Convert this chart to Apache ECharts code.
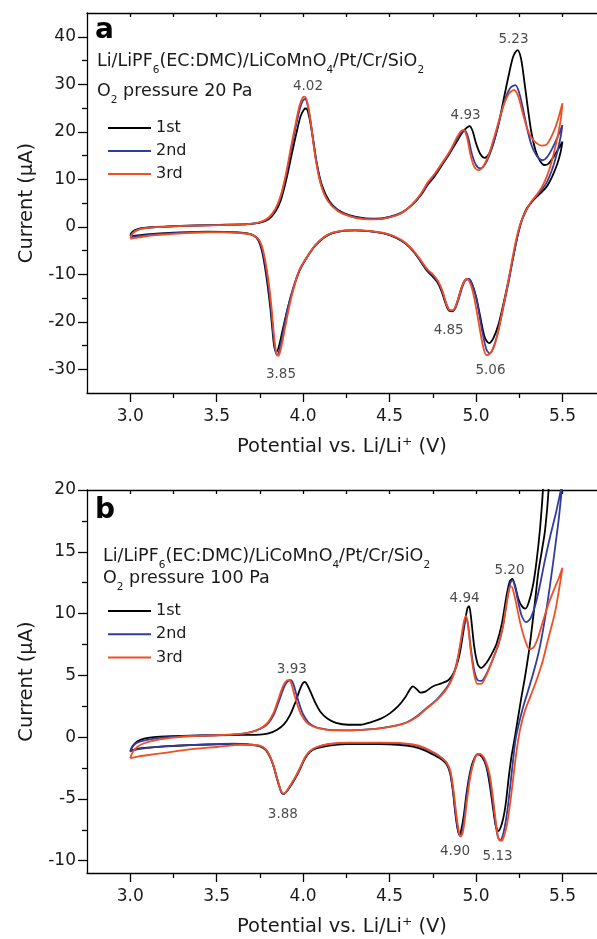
<!DOCTYPE html>
<html><head><meta charset="utf-8">
<script src="https://cdn.jsdelivr.net/npm/echarts@6/dist/echarts.min.js"></script>
<style>html,body{margin:0;padding:0;background:#fff}#c{width:597px;height:939px}</style>
</head><body><div id="c"></div>
<script>
// ---------- tick values ----------
const xMajor = [3.0, 3.5, 4.0, 4.5, 5.0, 5.5];
const xMinor = [3.25, 3.75, 4.25, 4.75, 5.25];
const xTop = [3.0, 3.25, 3.5, 3.75, 4.0, 4.25, 4.5, 4.75, 5.0, 5.25, 5.5];
const yMajorA = [-30, -20, -10, 0, 10, 20, 30, 40];
const yMinorA = [-25, -15, -5, 5, 15, 25, 35];
const yMajorB = [-10, -5, 0, 5, 10, 15, 20];
const yMinorB = [-7.5, -2.5, 2.5, 7.5, 12.5, 17.5];
const cycleNames = ['1st', '2nd', '3rd'];

// ---------- panel a data (V, µA), anodic then cathodic ----------
const a1st = [[3.00,-1.7],[3.015,-1.0],[3.04,-0.55],[3.08,-0.25],[3.15,-0.05],[3.25,0.12],[3.4,0.28],[3.55,0.42],[3.68,0.55],[3.75,0.85],[3.80,1.6],[3.84,3.2],[3.87,5.5],[3.90,9.5],[3.93,14.5],[3.96,19.5],[3.985,23.2],[4.005,24.7],[4.018,24.9],[4.035,23.2],[4.055,19.0],[4.08,13.2],[4.11,8.6],[4.15,5.5],[4.20,3.6],[4.27,2.4],[4.35,1.8],[4.42,1.7],[4.50,2.1],[4.57,3.0],[4.63,4.6],[4.68,6.6],[4.72,8.8],[4.76,10.6],[4.80,12.8],[4.85,15.6],[4.89,18.0],[4.92,19.8],[4.945,20.8],[4.963,21.2],[4.98,20.2],[5.00,17.6],[5.025,15.3],[5.05,14.5],[5.075,15.3],[5.10,17.5],[5.13,21.5],[5.16,26.8],[5.19,32.0],[5.215,35.8],[5.24,37.2],[5.26,35.5],[5.28,30.5],[5.30,25.0],[5.32,20.0],[5.345,16.0],[5.37,13.9],[5.395,13.0],[5.42,13.3],[5.45,14.8],[5.475,16.3],[5.50,17.9],
[5.49,15.8],[5.47,13.2],[5.44,10.5],[5.41,8.5],[5.38,7.3],[5.35,6.3],[5.32,5.1],[5.29,3.6],[5.265,1.4],[5.24,-2.0],[5.215,-6.4],[5.19,-11.0],[5.16,-16.0],[5.13,-20.6],[5.10,-23.5],[5.075,-24.5],[5.05,-23.2],[5.025,-19.0],[5.00,-14.6],[4.975,-11.9],[4.955,-11.0],[4.935,-11.3],[4.915,-13.0],[4.89,-16.0],[4.865,-17.8],[4.845,-17.7],[4.825,-16.2],[4.80,-13.5],[4.775,-11.6],[4.745,-10.3],[4.715,-9.2],[4.68,-7.3],[4.64,-5.3],[4.59,-3.5],[4.53,-2.2],[4.46,-1.35],[4.38,-0.9],[4.30,-0.75],[4.23,-0.85],[4.17,-1.35],[4.12,-2.3],[4.07,-4.0],[4.02,-6.6],[3.98,-9.2],[3.945,-12.8],[3.91,-17.3],[3.88,-22.0],[3.86,-25.2],[3.845,-26.3],[3.833,-25.2],[3.822,-21.5],[3.81,-17.0],[3.795,-12.4],[3.78,-8.6],[3.765,-5.6],[3.75,-3.6],[3.73,-2.3],[3.70,-1.6],[3.64,-1.25],[3.55,-1.08],[3.45,-1.05],[3.35,-1.12],[3.25,-1.25],[3.15,-1.45],[3.08,-1.65],[3.03,-1.85],[3.00,-2.0]];

const a2nd = [[3.00,-2.0],[3.015,-1.2],[3.04,-0.65],[3.08,-0.3],[3.15,-0.08],[3.25,0.1],[3.4,0.26],[3.55,0.4],[3.68,0.55],[3.75,0.9],[3.80,1.8],[3.84,3.6],[3.87,6.2],[3.90,10.5],[3.93,16.0],[3.96,21.5],[3.985,25.3],[4.00,26.6],[4.012,26.9],[4.03,25.0],[4.05,20.5],[4.075,14.0],[4.105,8.8],[4.145,5.4],[4.20,3.4],[4.27,2.3],[4.35,1.7],[4.42,1.6],[4.50,2.0],[4.57,2.9],[4.63,4.6],[4.68,6.7],[4.72,9.0],[4.76,10.9],[4.80,13.0],[4.85,15.8],[4.89,18.4],[4.915,19.8],[4.935,20.3],[4.955,18.8],[4.975,15.5],[5.00,13.0],[5.025,12.3],[5.05,13.0],[5.08,15.3],[5.11,18.8],[5.14,23.0],[5.17,27.0],[5.20,29.3],[5.228,29.8],[5.25,28.2],[5.275,24.3],[5.30,20.0],[5.325,16.8],[5.35,15.0],[5.37,14.2],[5.386,14.0],[5.41,14.6],[5.44,16.4],[5.47,18.7],[5.50,21.4],
[5.49,19.0],[5.47,15.7],[5.44,12.0],[5.41,9.4],[5.38,7.8],[5.35,6.5],[5.32,5.2],[5.29,3.4],[5.262,1.0],[5.238,-2.3],[5.213,-6.8],[5.188,-11.8],[5.158,-17.0],[5.13,-21.8],[5.105,-25.0],[5.08,-26.7],[5.06,-25.8],[5.035,-21.8],[5.01,-16.6],[4.985,-12.8],[4.96,-11.0],[4.94,-11.2],[4.92,-12.8],[4.895,-15.8],[4.87,-17.6],[4.85,-17.6],[4.83,-16.4],[4.805,-13.6],[4.78,-11.6],[4.75,-10.2],[4.72,-9.2],[4.68,-7.2],[4.64,-5.2],[4.59,-3.4],[4.53,-2.1],[4.46,-1.3],[4.38,-0.9],[4.30,-0.75],[4.23,-0.85],[4.17,-1.3],[4.12,-2.2],[4.07,-3.9],[4.02,-6.5],[3.98,-9.0],[3.945,-12.6],[3.91,-17.3],[3.885,-22.0],[3.865,-25.6],[3.85,-27.0],[3.838,-25.8],[3.826,-22.0],[3.814,-17.2],[3.80,-12.6],[3.785,-8.8],[3.77,-5.8],[3.755,-3.8],[3.735,-2.4],[3.70,-1.6],[3.64,-1.3],[3.55,-1.12],[3.45,-1.1],[3.35,-1.18],[3.25,-1.33],[3.15,-1.55],[3.08,-1.8],[3.03,-2.05],[3.00,-2.2]];

const a3rd = [[3.00,-2.4],[3.015,-1.4],[3.04,-0.75],[3.08,-0.35],[3.15,-0.1],[3.25,0.08],[3.4,0.24],[3.55,0.38],[3.68,0.55],[3.75,0.95],[3.80,1.9],[3.84,3.8],[3.87,6.5],[3.90,11.0],[3.93,16.8],[3.96,22.3],[3.98,25.6],[3.998,27.2],[4.01,27.4],[4.027,25.8],[4.047,21.2],[4.07,14.8],[4.10,9.2],[4.14,5.6],[4.20,3.3],[4.27,2.2],[4.35,1.6],[4.42,1.55],[4.50,2.0],[4.57,2.9],[4.63,4.7],[4.68,6.9],[4.72,9.3],[4.76,11.1],[4.80,13.2],[4.85,16.0],[4.885,18.5],[4.91,20.0],[4.928,20.4],[4.948,18.8],[4.968,15.2],[4.99,12.6],[5.015,11.9],[5.04,12.6],[5.07,14.8],[5.10,18.2],[5.13,22.0],[5.16,25.6],[5.19,28.0],[5.22,28.8],[5.245,27.4],[5.27,24.0],[5.295,20.8],[5.32,18.8],[5.35,17.6],[5.38,17.1],[5.405,17.2],[5.43,18.5],[5.46,21.0],[5.48,23.3],[5.50,26.0],
[5.49,22.5],[5.47,18.6],[5.44,14.0],[5.41,10.6],[5.38,8.3],[5.35,6.7],[5.32,5.3],[5.29,3.4],[5.258,0.8],[5.233,-2.6],[5.208,-7.2],[5.183,-12.2],[5.153,-17.6],[5.125,-22.6],[5.10,-25.6],[5.075,-26.9],[5.06,-27.0],[5.04,-25.0],[5.015,-20.0],[4.99,-15.0],[4.97,-12.2],[4.95,-11.0],[4.935,-11.3],[4.915,-12.9],[4.89,-16.0],[4.865,-17.6],[4.85,-17.6],[4.83,-16.4],[4.805,-13.4],[4.78,-11.4],[4.75,-10.0],[4.72,-9.0],[4.68,-7.0],[4.64,-5.1],[4.59,-3.3],[4.53,-2.05],[4.46,-1.25],[4.38,-0.85],[4.30,-0.7],[4.23,-0.8],[4.17,-1.25],[4.12,-2.2],[4.07,-3.9],[4.02,-6.5],[3.98,-9.0],[3.95,-12.3],[3.92,-16.8],[3.893,-21.8],[3.872,-25.6],[3.857,-27.2],[3.845,-26.6],[3.832,-23.0],[3.82,-18.0],[3.806,-13.2],[3.79,-9.0],[3.775,-6.0],[3.76,-3.9],[3.74,-2.5],[3.70,-1.65],[3.64,-1.35],[3.55,-1.2],[3.45,-1.2],[3.35,-1.3],[3.25,-1.48],[3.15,-1.75],[3.08,-2.05],[3.03,-2.35],[3.00,-2.55]];

// ---------- panel b data ----------
const b1st = [[3.00,-1.13],[3.015,-0.7],[3.04,-0.35],[3.08,-0.12],[3.15,0.02],[3.3,0.1],[3.5,0.15],[3.65,0.18],[3.75,0.2],[3.80,0.3],[3.85,0.6],[3.89,1.05],[3.925,1.8],[3.955,2.8],[3.98,3.8],[3.998,4.35],[4.01,4.46],[4.025,4.2],[4.045,3.6],[4.07,2.8],[4.10,2.05],[4.14,1.5],[4.19,1.15],[4.26,1.0],[4.33,1.0],[4.39,1.2],[4.45,1.5],[4.50,1.9],[4.55,2.5],[4.59,3.2],[4.615,3.8],[4.635,4.1],[4.655,3.9],[4.68,3.6],[4.71,3.7],[4.75,4.1],[4.80,4.35],[4.84,4.6],[4.875,5.3],[4.905,6.7],[4.93,8.8],[4.95,10.4],[4.96,10.6],[4.972,9.6],[4.99,7.3],[5.01,5.9],[5.03,5.6],[5.06,6.0],[5.09,6.7],[5.12,7.6],[5.15,9.2],[5.175,11.3],[5.195,12.6],[5.21,12.8],[5.225,12.3],[5.245,11.2],[5.265,10.6],[5.285,10.4],[5.305,10.9],[5.33,12.3],[5.35,14.2],[5.37,16.8],[5.385,19.5],[5.40,23.0],[5.43,30.0],[5.46,38.0],[5.50,48.0],
[5.47,37.0],[5.44,26.0],[5.42,20.0],[5.40,16.8],[5.38,15.0],[5.36,13.3],[5.34,10.8],[5.31,7.3],[5.285,5.0],[5.26,3.0],[5.24,1.3],[5.225,0.0],[5.205,-1.6],[5.19,-3.2],[5.17,-5.6],[5.15,-7.0],[5.13,-7.6],[5.115,-7.2],[5.10,-5.9],[5.08,-3.9],[5.06,-2.4],[5.035,-1.6],[5.01,-1.4],[4.985,-1.9],[4.965,-2.9],[4.945,-4.6],[4.93,-6.3],[4.915,-7.5],[4.905,-7.9],[4.893,-7.4],[4.88,-6.1],[4.865,-4.2],[4.85,-2.9],[4.83,-2.2],[4.80,-1.8],[4.77,-1.55],[4.70,-1.05],[4.636,-0.78],[4.55,-0.62],[4.44,-0.56],[4.25,-0.57],[4.15,-0.68],[4.08,-0.9],[4.04,-1.2],[4.01,-1.75],[3.985,-2.5],[3.96,-3.2],[3.935,-3.8],[3.91,-4.3],[3.89,-4.6],[3.878,-4.55],[3.865,-4.1],[3.85,-3.4],[3.83,-2.4],[3.81,-1.65],[3.785,-1.05],[3.75,-0.75],[3.68,-0.6],[3.6,-0.55],[3.45,-0.6],[3.3,-0.68],[3.2,-0.75],[3.1,-0.85],[3.04,-0.95],[3.00,-1.1]];

const b2nd = [[3.00,-1.2],[3.015,-0.75],[3.04,-0.45],[3.077,-0.28],[3.15,-0.1],[3.25,0.03],[3.35,0.1],[3.5,0.16],[3.6,0.22],[3.68,0.35],[3.73,0.55],[3.77,0.8],[3.80,1.15],[3.83,1.8],[3.855,2.7],[3.875,3.5],[3.895,4.2],[3.915,4.55],[3.93,4.6],[3.945,4.25],[3.96,3.5],[3.98,2.6],[4.00,1.85],[4.03,1.2],[4.06,0.9],[4.10,0.7],[4.17,0.56],[4.27,0.55],[4.37,0.62],[4.46,0.75],[4.54,0.95],[4.60,1.2],[4.66,1.7],[4.71,2.3],[4.77,3.0],[4.82,3.8],[4.855,4.6],[4.885,5.8],[4.91,7.5],[4.93,9.0],[4.943,9.6],[4.955,9.0],[4.97,7.2],[4.99,5.4],[5.01,4.6],[5.03,4.55],[5.06,5.1],[5.10,6.4],[5.13,7.5],[5.155,8.9],[5.18,11.1],[5.197,12.4],[5.21,12.7],[5.225,12.2],[5.245,10.9],[5.265,9.8],[5.29,9.3],[5.315,9.6],[5.345,10.8],[5.37,12.3],[5.40,14.4],[5.43,16.3],[5.46,18.0],[5.485,19.6],[5.50,20.6],
[5.48,17.8],[5.46,15.6],[5.445,14.0],[5.415,11.0],[5.387,8.6],[5.36,6.7],[5.33,5.1],[5.30,3.7],[5.27,2.3],[5.25,1.2],[5.23,-0.1],[5.215,-1.8],[5.198,-4.0],[5.178,-6.3],[5.158,-7.8],[5.14,-8.35],[5.127,-8.1],[5.113,-7.0],[5.095,-5.0],[5.075,-3.1],[5.05,-1.9],[5.025,-1.4],[5.005,-1.4],[4.985,-2.0],[4.965,-3.1],[4.945,-5.0],[4.93,-6.8],[4.917,-7.8],[4.907,-8.0],[4.895,-7.4],[4.882,-6.1],[4.867,-4.3],[4.85,-2.8],[4.83,-2.1],[4.80,-1.7],[4.77,-1.4],[4.70,-0.9],[4.636,-0.65],[4.55,-0.5],[4.44,-0.46],[4.27,-0.46],[4.15,-0.58],[4.08,-0.82],[4.04,-1.15],[4.01,-1.7],[3.985,-2.45],[3.96,-3.15],[3.935,-3.75],[3.91,-4.3],[3.89,-4.6],[3.878,-4.55],[3.865,-4.1],[3.85,-3.4],[3.83,-2.4],[3.81,-1.65],[3.785,-1.05],[3.75,-0.72],[3.68,-0.58],[3.6,-0.54],[3.45,-0.6],[3.3,-0.67],[3.2,-0.75],[3.1,-0.87],[3.04,-1.0],[3.00,-1.15]];

const b3rd = [[3.00,-1.7],[3.015,-1.2],[3.04,-0.8],[3.08,-0.5],[3.15,-0.25],[3.25,-0.05],[3.35,0.07],[3.5,0.15],[3.6,0.22],[3.68,0.35],[3.73,0.55],[3.77,0.85],[3.80,1.25],[3.83,2.0],[3.853,2.9],[3.872,3.7],[3.89,4.3],[3.907,4.6],[3.92,4.62],[3.935,4.2],[3.95,3.4],[3.97,2.5],[3.99,1.8],[4.02,1.2],[4.055,0.88],[4.10,0.68],[4.17,0.55],[4.27,0.54],[4.37,0.6],[4.46,0.72],[4.54,0.92],[4.60,1.18],[4.66,1.65],[4.71,2.25],[4.77,2.95],[4.82,3.7],[4.855,4.5],[4.885,5.7],[4.91,7.6],[4.928,9.2],[4.942,9.8],[4.953,9.2],[4.968,7.2],[4.988,5.2],[5.008,4.3],[5.028,4.3],[5.06,5.0],[5.10,6.4],[5.13,7.6],[5.155,8.9],[5.178,10.9],[5.195,12.1],[5.205,12.2],[5.22,11.6],[5.24,10.3],[5.26,9.0],[5.285,7.8],[5.31,7.1],[5.335,7.3],[5.36,8.1],[5.39,9.5],[5.42,10.8],[5.45,11.9],[5.48,12.9],[5.50,13.7],
[5.48,11.9],[5.46,10.3],[5.445,9.4],[5.415,7.8],[5.387,6.2],[5.35,4.6],[5.315,3.3],[5.28,2.0],[5.255,0.6],[5.235,-1.1],[5.218,-3.0],[5.2,-5.1],[5.18,-7.0],[5.16,-8.1],[5.145,-8.4],[5.13,-8.2],[5.117,-7.1],[5.1,-5.1],[5.08,-3.1],[5.055,-1.9],[5.03,-1.4],[5.01,-1.35],[4.99,-1.9],[4.97,-3.0],[4.95,-4.9],[4.935,-6.7],[4.922,-7.8],[4.91,-8.05],[4.898,-7.4],[4.885,-6.1],[4.87,-4.3],[4.853,-2.8],[4.83,-2.05],[4.80,-1.65],[4.77,-1.35],[4.70,-0.85],[4.636,-0.6],[4.55,-0.47],[4.44,-0.44],[4.27,-0.44],[4.15,-0.56],[4.08,-0.8],[4.04,-1.12],[4.01,-1.65],[3.985,-2.4],[3.96,-3.1],[3.935,-3.7],[3.91,-4.25],[3.892,-4.55],[3.878,-4.5],[3.865,-4.05],[3.85,-3.35],[3.83,-2.35],[3.81,-1.6],[3.785,-1.0],[3.75,-0.7],[3.68,-0.62],[3.6,-0.65],[3.5,-0.8],[3.4,-0.92],[3.3,-1.08],[3.21,-1.25],[3.12,-1.42],[3.05,-1.56],[3.00,-1.7]];

// ---------- peak labels [V, µA, text] ----------
const peaksA = [[4.028,29.6,'4.02'],[4.94,23.5,'4.93'],[5.217,39.5,'5.23'],[3.872,-31.0,'3.85'],[4.842,-21.8,'4.85'],[5.084,-30.2,'5.06']];
const peaksB = [[3.935,5.5,'3.93'],[3.883,-6.25,'3.88'],[4.934,11.25,'4.94'],[5.194,13.45,'5.20'],[4.879,-9.3,'4.90'],[5.125,-9.7,'5.13']];

// ---------- style ----------
const FONT = 'DejaVu Sans';
const TXT = '#1a1a1a';
const COLORS = ['#000000', '#323ca0', '#f04e23'];

const chart = echarts.init(document.getElementById('c'), null, {renderer: 'canvas'});

function xAxes(g) {
  const base = {type: 'value', gridIndex: g, min: 2.75, max: 5.7, splitLine: {show: false}};
  return [
    Object.assign({}, base, {
      position: 'bottom',
      axisLine: {show: true, onZero: false, lineStyle: {color: '#000', width: 1.3}},
      axisTick: {show: true, inside: false, length: 9, customValues: xMajor, lineStyle: {color: '#000', width: 1.3}},
      axisLabel: {show: true, customValues: xMajor, margin: 15, formatter: v => Number(v).toFixed(1),
        fontFamily: FONT, fontSize: 17, color: TXT},
      name: 'Potential vs. Li/Li\u207A (V)', nameLocation: 'middle', nameGap: 44,
      nameTextStyle: {fontFamily: FONT, fontSize: 19.5, color: TXT}
    }),
    Object.assign({}, base, {
      position: 'bottom',
      axisLine: {show: false, onZero: false},
      axisTick: {show: true, inside: false, length: 5, customValues: xMinor, lineStyle: {color: '#000', width: 1.3}},
      axisLabel: {show: false}
    }),
    Object.assign({}, base, {
      position: 'top',
      axisLine: {show: true, onZero: false, lineStyle: {color: '#000', width: 1.3}},
      axisTick: {show: true, inside: true, length: 4, customValues: xTop, lineStyle: {color: '#000', width: 1.3}},
      axisLabel: {show: false}
    })
  ];
}
function yAxes(g, min, max, major, minor) {
  const base = {type: 'value', gridIndex: g, min: min, max: max, position: 'left', splitLine: {show: false}};
  return [
    Object.assign({}, base, {
      axisLine: {show: true, onZero: false, lineStyle: {color: '#000', width: 1.3}},
      axisTick: {show: true, inside: false, length: 9, customValues: major, lineStyle: {color: '#000', width: 1.3}},
      axisLabel: {show: true, customValues: major, margin: 11, fontFamily: FONT, fontSize: 17, color: TXT},
      name: 'Current (\u03BCA)', nameLocation: 'middle', nameGap: 50, nameRotate: 90,
      nameTextStyle: {fontFamily: FONT, fontSize: 19.5, color: TXT}
    }),
    Object.assign({}, base, {
      axisLine: {show: false, onZero: false},
      axisTick: {show: true, inside: false, length: 5, customValues: minor, lineStyle: {color: '#000', width: 1.3}},
      axisLabel: {show: false}
    })
  ];
}

function cvSeries(name, data, color, xi, yi) {
  return {type: 'line', name: name, data: data, xAxisIndex: xi, yAxisIndex: yi,
    symbol: 'none', smooth: 0.3, clip: true, color: color,
    lineStyle: {color: color, width: 1.8}, z: 3};
}
function peakSeries(data, xi, yi) {
  return {type: 'scatter', name: 'peaks', data: data, xAxisIndex: xi, yAxisIndex: yi,
    symbolSize: 1, itemStyle: {color: 'rgba(0,0,0,0)'}, silent: true, z: 5,
    label: {show: true, position: 'inside', formatter: p => p.data[2],
      fontFamily: FONT, fontSize: 13.5, color: TXT}};
}

const rich = {
  m: {fontFamily: FONT, fontSize: 17.5, lineHeight: 22, color: TXT},
  s: {fontFamily: FONT, fontSize: 10.5, lineHeight: 10, padding: [19, 0, 0, 0], color: TXT}
};
const chemText = '{m|Li/LiPF}{s|6}{m|(EC:DMC)/LiCoMnO}{s|4}{m|/Pt/Cr/SiO}{s|2}';
function txt(x, y, text, extra) {
  return {type: 'text', x: x, y: y, silent: true,
    style: Object.assign({text: text, fontFamily: FONT, fontSize: 17.5, fill: TXT,
      align: 'left', verticalAlign: 'middle', rich: rich}, extra || {})};
}
function legendAt(top, gap) {
  return {orient: 'vertical', left: 103, top: top, itemWidth: 43, itemHeight: 2, itemGap: gap,
    icon: 'rect', data: cycleNames, selectedMode: false,
    textStyle: {fontFamily: FONT, fontSize: 16, color: TXT}};
}

const option = {
  animation: false,
  backgroundColor: '#fff',
  grid: [
    {left: 87, top: 13, width: 510, height: 380},
    {left: 87, top: 490, width: 510, height: 383}
  ],
  xAxis: xAxes(0).concat(xAxes(1)),
  yAxis: yAxes(0, -35, 45, yMajorA, yMinorA).concat(yAxes(1, -11, 20, yMajorB, yMinorB)),
  legend: [legendAt(115, 7), legendAt(598, 7.3)],
  graphic: [
    txt(95, 31, 'a', {fontSize: 28, fontWeight: 'bold', fill: '#000', rich: null}),
    txt(97, 61, chemText),
    txt(97, 91, '{m|O}{s|2}{m| pressure 20 Pa}'),
    txt(95, 511, 'b', {fontSize: 28, fontWeight: 'bold', fill: '#000', rich: null}),
    txt(103, 556, chemText),
    txt(103, 578, '{m|O}{s|2}{m| pressure 100 Pa}')
  ],
  series: [
    cvSeries(cycleNames[0], a1st, COLORS[0], 0, 0),
    cvSeries(cycleNames[1], a2nd, COLORS[1], 0, 0),
    cvSeries(cycleNames[2], a3rd, COLORS[2], 0, 0),
    peakSeries(peaksA, 0, 0),
    cvSeries(cycleNames[0], b1st, COLORS[0], 3, 2),
    cvSeries(cycleNames[1], b2nd, COLORS[1], 3, 2),
    cvSeries(cycleNames[2], b3rd, COLORS[2], 3, 2),
    peakSeries(peaksB, 3, 2)
  ]
};
chart.setOption(option);
</script></body></html>
